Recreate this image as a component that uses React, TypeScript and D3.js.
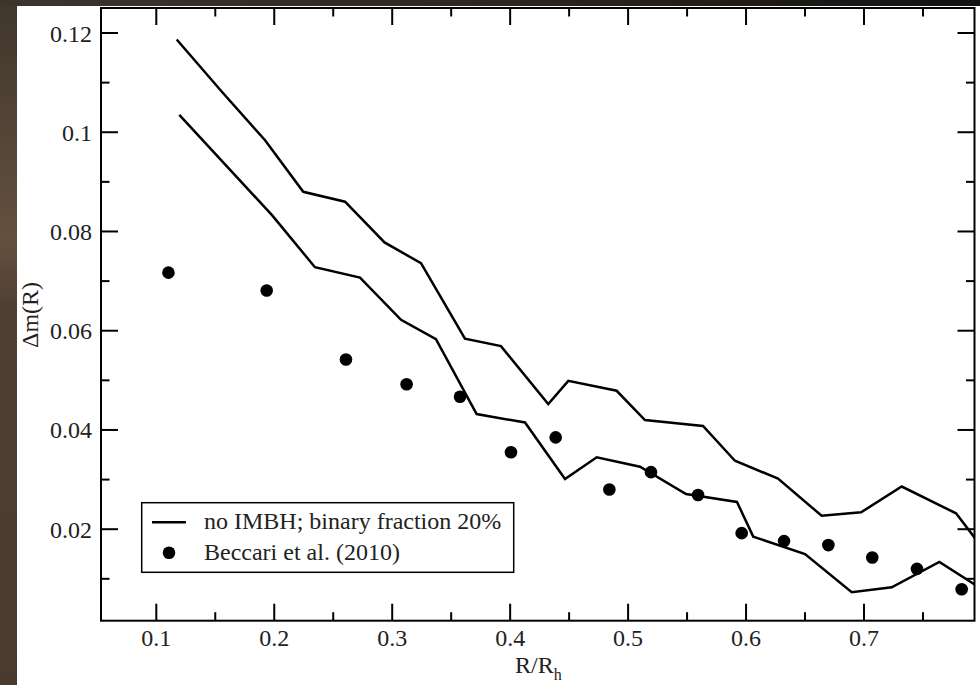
import React from "react";
import * as d3 from "d3";

const upperX = [0.1173, 0.1554, 0.1922, 0.2246, 0.26, 0.2935, 0.3244, 0.3617, 0.3922, 0.4323, 0.4493, 0.4903, 0.5143, 0.5635, 0.5906, 0.6271, 0.6641, 0.6975, 0.732, 0.778, 0.7941];
const upperY = [0.1187, 0.1082, 0.0984, 0.088, 0.086, 0.0778, 0.0736, 0.0584, 0.0569, 0.0452, 0.0499, 0.0479, 0.042, 0.0408, 0.0338, 0.0302, 0.0227, 0.0234, 0.0286, 0.0232, 0.0182];

const lowerX = [0.1195, 0.1981, 0.2345, 0.2727, 0.3075, 0.3371, 0.3716, 0.4126, 0.4465, 0.4734, 0.5101, 0.5491, 0.5923, 0.6061, 0.65, 0.6896, 0.7235, 0.7639, 0.7941];
const lowerY = [0.1035, 0.0833, 0.0728, 0.0707, 0.0622, 0.0583, 0.0432, 0.0415, 0.0301, 0.0345, 0.0326, 0.0271, 0.0255, 0.0185, 0.015, 0.0073, 0.0083, 0.0134, 0.0088];

const obsX = [0.1103, 0.1936, 0.2608, 0.3122, 0.3575, 0.4007, 0.4386, 0.4841, 0.5194, 0.5593, 0.5963, 0.6322, 0.6698, 0.707, 0.7449, 0.7828];
const obsY = [0.0717, 0.0681, 0.0542, 0.0492, 0.0467, 0.0355, 0.0385, 0.028, 0.0315, 0.0269, 0.0192, 0.0176, 0.0168, 0.0143, 0.012, 0.0079];

const xMajor = [0.1, 0.2, 0.3, 0.4, 0.5, 0.6, 0.7];
const xMinor = [0.15, 0.25, 0.35, 0.45, 0.55, 0.65, 0.75];
const yMajor = [0.02, 0.04, 0.06, 0.08, 0.1, 0.12];
const yMinor = [0.01, 0.03, 0.05, 0.07, 0.09, 0.11];
const yLabels = ["0.02", "0.04", "0.06", "0.08", "0.1", "0.12"];
const xLabels = ["0.1", "0.2", "0.3", "0.4", "0.5", "0.6", "0.7"];

const legendLine = "no IMBH; binary fraction 20%";
const legendDots = "Beccari et al. (2010)";

const W = 980, H = 685;
const L = 101, R = 974.5, T = 8, B = 620.7;
const FONT = "Liberation Serif, Times New Roman, serif";

export default function App() {
  const x = d3.scaleLinear().domain([0.1 - (156.3 - L) / 1179.5, 0.1 + (R - 156.3) / 1179.5]).range([L, R]);
  const y = d3.scaleLinear().domain([0.12 - (B - 33) / 4962, 0.12 + (33 - T) / 4962]).range([B, T]);
  const line = d3.line<[number, number]>().x((d) => x(d[0])).y((d) => y(d[1]));
  const up = upperX.map((v, i) => [v, upperY[i]] as [number, number]);
  const lo = lowerX.map((v, i) => [v, lowerY[i]] as [number, number]);
  const maj = 17, min = 8.5;
  return (
    <svg width={W} height={H} style={{ position: "absolute", left: 0, top: 0 }}>
      <defs>
        <linearGradient id="topg" x1="0" x2="1" y1="0" y2="0">
          <stop offset="0" stopColor="#3e342b" />
          <stop offset="0.5" stopColor="#2e2620" />
          <stop offset="1" stopColor="#141210" />
        </linearGradient>
        <linearGradient id="leftg" x1="0" x2="0" y1="0" y2="1">
          <stop offset="0" stopColor="#40362d" />
          <stop offset="0.35" stopColor="#63513f" />
          <stop offset="0.45" stopColor="#4f3f33" />
          <stop offset="1" stopColor="#4a3a2f" />
        </linearGradient>
        <clipPath id="plot">
          <rect x={L} y={T} width={R - L} height={B - T} />
        </clipPath>
      </defs>
      <rect x={0} y={0} width={W} height={H} fill="url(#leftg)" />
      <rect x={0} y={0} width={W} height={6} fill="url(#topg)" />
      <rect x={17} y={6} width={W - 17} height={H - 6} fill="#ffffff" />

      <g stroke="#000" strokeWidth={2}>
        {xMajor.map((v) => (
          <g key={"xm" + v}>
            <line x1={x(v)} x2={x(v)} y1={B} y2={B - maj} />
            <line x1={x(v)} x2={x(v)} y1={T} y2={T + maj} />
          </g>
        ))}
        {xMinor.map((v) => (
          <g key={"xn" + v}>
            <line x1={x(v)} x2={x(v)} y1={B} y2={B - min} />
            <line x1={x(v)} x2={x(v)} y1={T} y2={T + min} />
          </g>
        ))}
        {yMajor.map((v) => (
          <g key={"ym" + v}>
            <line x1={L} x2={L + maj} y1={y(v)} y2={y(v)} />
            <line x1={R} x2={R - maj} y1={y(v)} y2={y(v)} />
          </g>
        ))}
        {yMinor.map((v) => (
          <g key={"yn" + v}>
            <line x1={L} x2={L + min} y1={y(v)} y2={y(v)} />
            <line x1={R} x2={R - min} y1={y(v)} y2={y(v)} />
          </g>
        ))}
      </g>

      <g clipPath="url(#plot)">
        <path d={line(up) || ""} fill="none" stroke="#000" strokeWidth={2.5} />
        <path d={line(lo) || ""} fill="none" stroke="#000" strokeWidth={2.5} />
        {obsX.map((v, i) => (
          <circle key={"o" + i} cx={x(v)} cy={y(obsY[i])} r={6.3} fill="#000" />
        ))}
      </g>

      <rect x={L} y={T} width={R - L} height={B - T} fill="none" stroke="#000" strokeWidth={2} />

      <g fontFamily={FONT} fontSize={24} fill="#222">
        {yMajor.map((v, i) => (
          <text key={"yl" + v} x={92} y={y(v) + 8.5} textAnchor="end">{yLabels[i]}</text>
        ))}
        {xMajor.map((v, i) => (
          <text key={"xl" + v} x={x(v)} y={646} textAnchor="middle">{xLabels[i]}</text>
        ))}
      </g>

      <text fontFamily={FONT} fontSize={24} fill="#222" transform={`translate(38, 315) rotate(-90)`} textAnchor="middle">Δm(R)</text>
      <text fontFamily={FONT} fontSize={24} fill="#222" x={515} y={673}>
        R/R<tspan fontSize={16} dy={7}>h</tspan>
      </text>

      <rect x={141.7} y={502.7} width={372} height={69.6} fill="#fff" stroke="#000" strokeWidth={1.5} />
      <line x1={152} x2={186} y1={522.3} y2={522.3} stroke="#000" strokeWidth={2.5} />
      <circle cx={169} cy={552.7} r={6.3} fill="#000" />
      <g fontFamily={FONT} fontSize={24} fill="#222">
        <text x={204} y={528.5}>{legendLine}</text>
        <text x={204} y={560}>{legendDots}</text>
      </g>
    </svg>
  );
}
